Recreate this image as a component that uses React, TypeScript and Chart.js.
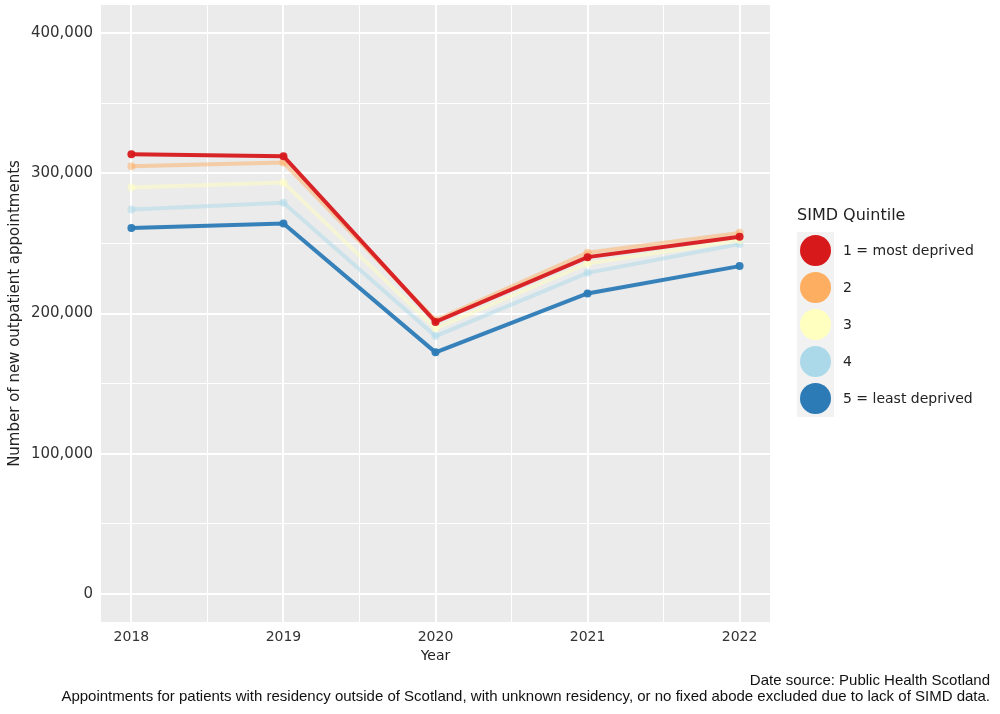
import { useEffect, useRef } from "react";
import Chart from "chart.js/auto";

// data
const YEARS = [2018, 2019, 2020, 2021, 2022];
const Q1 = [313600, 312200, 194000, 240200, 254700];
const Q2 = [305000, 307700, 195200, 243300, 257500];
const Q3 = [289900, 293400, 189400, 235700, 252300];
const Q4 = [274200, 278900, 183900, 229000, 249500];
const Q5 = [260900, 264200, 172300, 214300, 233800];
const QUINTILES = ["1 = most deprived", "2", "3", "4", "5 = least deprived"];
const COLOURS = ["#D7191C", "#FDAE61", "#FFFFBF", "#ABD9E9", "#2C7BB6"];
const LINE_COLOURS = [
  "rgba(215, 25, 28, 0.95)",
  "rgba(253, 174, 97, 0.5)",
  "rgba(255, 255, 191, 0.5)",
  "rgba(171, 217, 233, 0.5)",
  "rgba(44, 123, 182, 0.95)",
];
const Y_TICKS = [0, 100000, 200000, 300000, 400000];

const FONT = "'DejaVu Sans', sans-serif";

export default function App() {
  const canvasRef = useRef<HTMLCanvasElement | null>(null);

  useEffect(() => {
    if (!canvasRef.current) return;
    const series = [Q1, Q2, Q3, Q4, Q5];
    const drawOrder = [0, 2, 3, 4, 1];

    const yGrid: number[] = [];
    Y_TICKS.forEach((v, i) => {
      yGrid.push(v);
      if (i < Y_TICKS.length - 1) yGrid.push((v + Y_TICKS[i + 1]) / 2);
    });
    const xGrid: number[] = [];
    YEARS.forEach((v, i) => {
      xGrid.push(v);
      if (i < YEARS.length - 1) xGrid.push((v + YEARS[i + 1]) / 2);
    });

    const chart = new Chart(canvasRef.current, {
      type: "line",
      data: {
        datasets: series.map((s, i) => ({
          label: QUINTILES[i],
          data: s.map((v, j) => ({ x: YEARS[j], y: v })),
          borderColor: LINE_COLOURS[i],
          backgroundColor: LINE_COLOURS[i],
          borderWidth: 4,
          pointRadius: 4,
          pointBorderWidth: 0,
          tension: 0,
          order: drawOrder[i],
        })),
      },
      options: {
        responsive: false,
        animation: false,
        layout: { padding: { left: 0, top: 5, right: 230, bottom: 44 } },
        plugins: {
          legend: { display: false },
          tooltip: { enabled: false },
        },
        scales: {
          x: {
            type: "linear",
            min: 2017.8,
            max: 2022.2,
            afterBuildTicks: (scale) => {
              scale.ticks = xGrid.map((v) => ({ value: v }));
            },
            afterFit: (scale: any) => {
              scale.height = 48;
              scale.paddingLeft = 0;
              scale.paddingRight = 0;
            },
            grid: {
              color: "#ffffff",
              lineWidth: (ctx) => (Number.isInteger(ctx.tick?.value) ? 2 : 1),
              drawTicks: false,
            },
            border: { display: false },
            ticks: {
              autoSkip: false,
              maxRotation: 0,
              padding: 7,
              color: "#333333",
              font: { family: FONT, size: 14 },
              callback: (v) => (Number.isInteger(v) ? String(v) : ""),
            },
            title: {
              display: true,
              text: "Year",
              color: "#222222",
              padding: { top: 0, bottom: 5 },
              font: { family: FONT, size: 14 },
            },
          },
          y: {
            min: -20000,
            max: 420000,
            afterBuildTicks: (scale) => {
              scale.ticks = yGrid.map((v) => ({ value: v }));
            },
            afterFit: (scale: any) => {
              scale.width = 101;
              scale.paddingTop = 0;
              scale.paddingBottom = 0;
            },
            grid: {
              color: "#ffffff",
              lineWidth: (ctx) =>
                Y_TICKS.includes(ctx.tick?.value as number) ? 2 : 1,
              drawTicks: false,
            },
            border: { display: false },
            ticks: {
              autoSkip: false,
              padding: 8,
              color: "#333333",
              font: { family: FONT, size: 15 },
              callback: (v) =>
                Y_TICKS.includes(v as number) ? Number(v).toLocaleString("en-GB") : "",
            },
            title: {
              display: true,
              text: "Number of new outpatient appointments",
              color: "#222222",
              padding: { top: 6, bottom: 0 },
              font: { family: FONT, size: 15 },
            },
          },
        },
      },
      plugins: [
        {
          id: "panelBg",
          beforeDraw: (c) => {
            const { ctx, chartArea } = c;
            ctx.save();
            ctx.fillStyle = "#EBEBEB";
            ctx.fillRect(
              chartArea.left,
              chartArea.top,
              chartArea.right - chartArea.left,
              chartArea.bottom - chartArea.top
            );
            ctx.restore();
          },
        },
      ],
    });

    return () => chart.destroy();
  }, []);

  return (
    <div
      style={{
        position: "absolute",
        left: 0,
        top: 0,
        width: 1000,
        height: 714,
        background: "#ffffff",
        fontFamily: FONT,
      }}
    >
      <canvas ref={canvasRef} width={1000} height={714} style={{ position: "absolute", left: 0, top: 0 }} />

      <div style={{ position: "absolute", left: 797, top: 205, fontSize: 16, color: "#222", whiteSpace: "nowrap" }}>
        SIMD Quintile
      </div>
      {QUINTILES.map((q, i) => (
        <div key={q}>
          <div
            style={{
              position: "absolute",
              left: 797,
              top: 232 + i * 37,
              width: 37,
              height: 37,
              background: "#F2F2F2",
            }}
          >
            <div
              style={{
                position: "absolute",
                left: 3,
                top: 3,
                width: 31,
                height: 31,
                borderRadius: "50%",
                background: COLOURS[i],
              }}
            />
          </div>
          <div
            style={{
              position: "absolute",
              left: 843,
              top: 232 + i * 37,
              height: 37,
              lineHeight: "37px",
              fontSize: 14,
              color: "#222",
              whiteSpace: "nowrap",
            }}
          >
            {q}
          </div>
        </div>
      ))}

      <div
        style={{
          position: "absolute",
          right: 10,
          top: 672,
          textAlign: "right",
          fontFamily: "'Liberation Sans', Arial, sans-serif",
          fontSize: 15,
          lineHeight: "16px",
          color: "#111",
          whiteSpace: "nowrap",
        }}
      >
        Date source: Public Health Scotland
        <br />
        Appointments for patients with residency outside of Scotland, with unknown residency, or no fixed abode excluded due to lack of SIMD data.
      </div>
    </div>
  );
}
